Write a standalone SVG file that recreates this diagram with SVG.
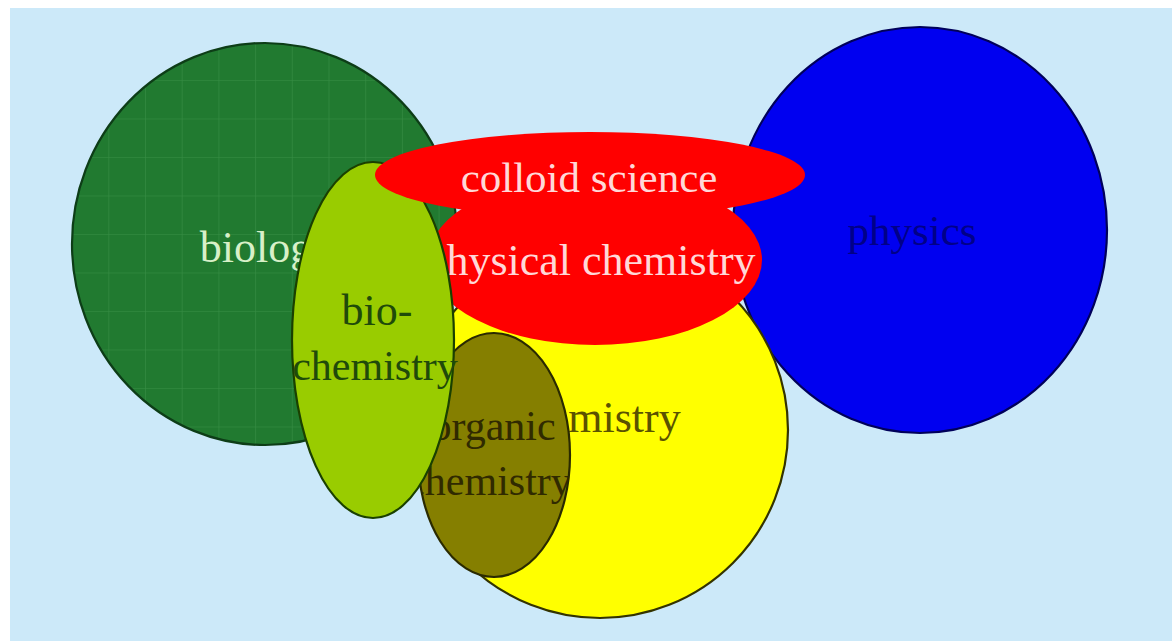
<svg xmlns="http://www.w3.org/2000/svg" width="1172" height="641" viewBox="0 0 1172 641">
  <defs>
    <pattern id="grid" patternUnits="userSpaceOnUse" x="145" y="80" width="36.7" height="38.5">
      <rect width="36.7" height="38.5" fill="#217a30"/>
      <path d="M0 0 V38.5 M0 0 H36.7" stroke="#4a9e55" stroke-width="1.2" opacity="0.55" fill="none"/>
    </pattern>
    <clipPath id="orgClip">
      <ellipse cx="494" cy="455" rx="76" ry="122"/>
    </clipPath>
  </defs>
  <style>
    .lbl { font-family: "Liberation Serif", "Times New Roman", serif; font-size: 43px; text-anchor: middle; }
    .shape { stroke-width: 2.2; }
  </style>
  <rect x="0" y="0" width="1172" height="641" fill="#ffffff"/>
  <rect x="10" y="8" width="1162" height="633" fill="#cce9f9"/>

  <g id="biology">
    <ellipse class="shape" cx="265" cy="244" rx="193" ry="201" fill="url(#grid)" stroke="#0d3d17"/>
    <text class="lbl" x="267" y="262" fill="#d8f0c8" style="font-size:44px">biology</text>
  </g>

  <g id="physics">
    <ellipse class="shape" cx="920" cy="230" rx="187" ry="203" fill="#0000f0" stroke="#00005a"/>
    <text class="lbl" x="912" y="245" fill="#000088">physics</text>
  </g>

  <g id="chemistry">
    <circle class="shape" cx="600" cy="430" r="188" fill="#ffff00" stroke="#333300"/>
    <text class="lbl" x="594" y="432" fill="#5a5200" style="font-size:44px">chemistry</text>
  </g>

  <g id="physical-chemistry">
    <ellipse cx="595" cy="260" rx="167" ry="85" fill="#ff0000"/>
    <text class="lbl" x="590" y="275" fill="#ffd8d8" style="font-size:44px">physical chemistry</text>
  </g>

  <g id="organic-chemistry">
    <ellipse class="shape" cx="494" cy="455" rx="76" ry="122" fill="#857f00" stroke="#2a2a00"/>
    <g clip-path="url(#orgClip)">
      <text class="lbl" x="493" y="440" fill="#302a00" style="font-size:42px">organic</text>
      <text class="lbl" x="489" y="495" fill="#302a00" style="font-size:42px">chemistry</text>
    </g>
  </g>

  <g id="bio-chemistry">
    <ellipse class="shape" cx="373" cy="340" rx="81" ry="178" fill="#99cc00" stroke="#1a4000"/>
    <text class="lbl" x="377" y="325" fill="#1f4a0a" style="font-size:44px">bio-</text>
    <text class="lbl" x="375" y="380" fill="#1f4a0a" style="font-size:42px">chemistry</text>
  </g>

  <g id="colloid-science">
    <ellipse cx="590" cy="175" rx="215" ry="43" fill="#ff0000"/>
    <text class="lbl" x="589" y="192" fill="#ffd8d8">colloid science</text>
  </g>

  <g id="connectors"></g>
</svg>
